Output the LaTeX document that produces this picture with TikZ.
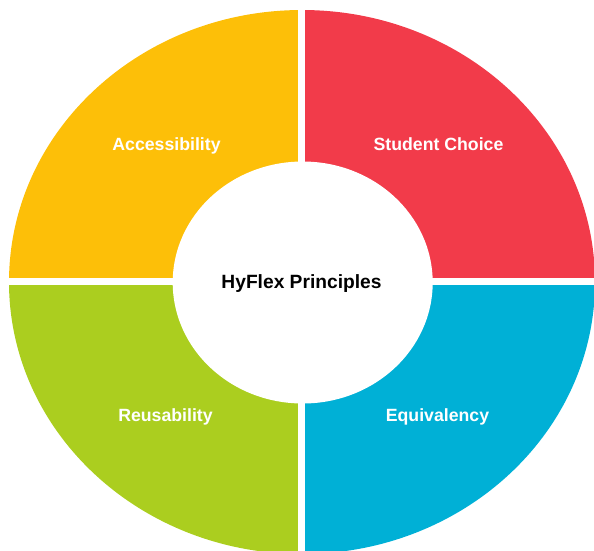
\documentclass[tikz,border=0pt]{standalone}
\usepackage{fontspec}
\setmainfont{Liberation Sans}
\definecolor{hfyellow}{HTML}{FDBF08}
\definecolor{hfred}{HTML}{F23B4A}
\definecolor{hfgreen}{HTML}{ABCE1F}
\definecolor{hfblue}{HTML}{00B0D6}
\tikzset{
  lbl/.style={font=\bfseries\fontsize{17.7}{20}\selectfont,text=white,inner sep=0pt,anchor=base},
  ctr/.style={font=\bfseries\fontsize{19.2}{22}\selectfont,text=black,inner sep=0pt,anchor=base},
  gap/.style={draw=white,line width=7pt}
}
\begin{document}
\begin{tikzpicture}[x=1pt,y=-1pt]
\useasboundingbox (0,0) rectangle (594,550);
\begin{scope}
\clip (0,0) rectangle (594,550);
\clip (302,282) ellipse[x radius=293pt,y radius=272pt];
\fill[hfyellow] (0,0) rectangle (302,282);
\fill[hfred] (302,0) rectangle (600,282);
\fill[hfblue] (302,282) rectangle (600,560);
\fill[hfgreen] (0,282) rectangle (302,560);
\draw[gap] (301.7,0) -- (301.7,560);
\draw[gap] (0,281.8) -- (600,281.8);
\fill[white] (302.7,282.5) ellipse[x radius=130pt,y radius=121pt];
\end{scope}
\node[lbl] (acc) at (166.5,150.3) {Accessibility};
\node[lbl] (stu) at (438.5,150.3) {Student Choice};
\node[lbl] (reu) at (165.5,421.5) {Reusability};
\node[lbl] (equ) at (437.5,421.5) {Equivalency};
\node[ctr] (hub) at (301.5,288.5) {HyFlex Principles};
\end{tikzpicture}
\end{document}
